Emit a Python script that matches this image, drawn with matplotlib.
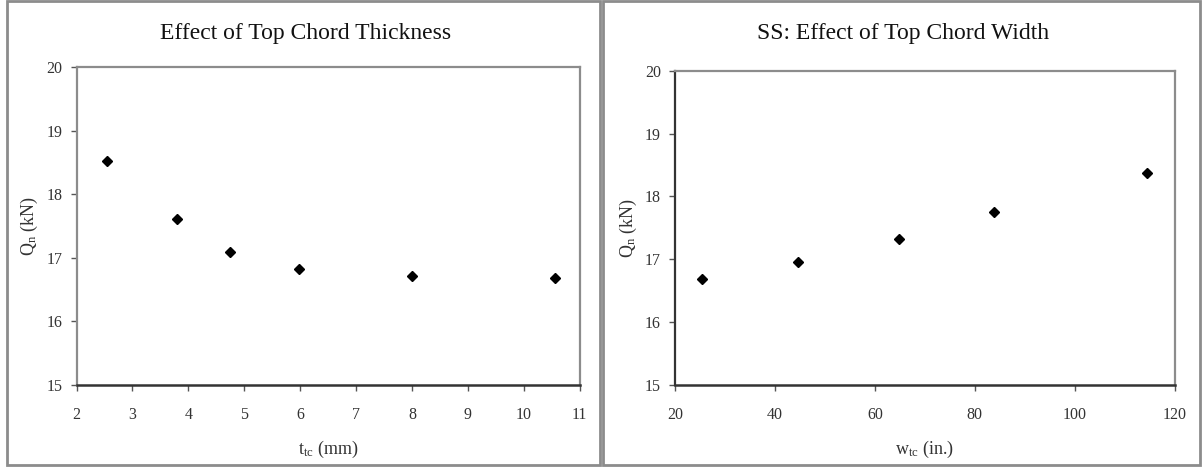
import matplotlib
matplotlib.use("Agg")
import matplotlib.pyplot as plt
from matplotlib.patches import Rectangle

# Data
thickness_mm = [2.54, 3.80, 4.75, 5.98, 8.00, 10.55]
qn_thickness = [18.52, 17.61, 17.09, 16.83, 16.71, 16.69]

width_in = [25.5, 44.7, 64.9, 83.8, 114.5]
qn_width = [16.69, 16.95, 17.32, 17.76, 18.37]

left_xticks = [2, 3, 4, 5, 6, 7, 8, 9, 10, 11]
right_xticks = [20, 40, 60, 80, 100, 120]
yticks = [15, 16, 17, 18, 19, 20]

plt.rcParams['font.family'] = ['Liberation Serif', 'DejaVu Serif']
plt.rcParams['mathtext.fontset'] = 'custom'
plt.rcParams['mathtext.rm'] = 'Liberation Serif'
plt.rcParams['mathtext.it'] = 'Liberation Serif'

W, H = 1202, 467
fig = plt.figure(figsize=(W / 100, H / 100), dpi=100)

# Panel borders
for (x0, x1) in [(7, 600), (603, 1200)]:
    fig.patches.append(Rectangle((x0 / W, 1 - 465 / H), (x1 - x0) / W, 464 / H,
                                 transform=fig.transFigure, fill=False,
                                 edgecolor='#8c8c8c', linewidth=2.0))

def make_axes(rect, x, y, xlim, xticks, title, xlabel, title_x, left_dark,
              ylab_x, xlab_y):
    ax = fig.add_axes(rect)
    ax.plot(x, y, linestyle='none', marker='D', markersize=5.2, color='black')
    ax.set_xlim(*xlim)
    ax.set_ylim(15, 20)
    ax.set_xticks(xticks)
    ax.set_yticks(yticks)
    for s in ['top', 'right']:
        ax.spines[s].set_color('#8c8c8c')
        ax.spines[s].set_linewidth(1.6)
    ax.spines['left'].set_color('#333333' if left_dark else '#8c8c8c')
    ax.spines['left'].set_linewidth(1.6)
    ax.spines['bottom'].set_color('#333333')
    ax.spines['bottom'].set_linewidth(1.8)
    ax.tick_params(direction='out', length=4, width=1, colors='#555555',
                   labelsize=11.5, labelcolor='#333333')
    ax.tick_params(axis='x', pad=12)
    ax.tick_params(axis='y', pad=6)
    ax.set_xlabel(xlabel, fontsize=13, color='#333333')
    ax.set_ylabel(r'Q$_{\mathrm{n}}$ (kN)', fontsize=13, color='#333333')
    ax.xaxis.set_label_coords(0.5, xlab_y)
    ax.yaxis.set_label_coords(ylab_x, 0.5)
    fig.text(title_x / W, 1 - 33 / H, title, ha='center', va='center',
             fontsize=17, color='#111111')
    return ax

make_axes([76.5 / W, 1 - 385 / H, 503.3 / W, 318 / H], thickness_mm, qn_thickness,
          (2, 11), left_xticks, 'Effect of Top Chord Thickness',
          r't$_{\mathrm{tc}}$ (mm)', 306, False, -0.072, -0.17)
make_axes([674.9 / W, 1 - 385 / H, 499.8 / W, 314.3 / H], width_in, qn_width,
          (20, 120), right_xticks, 'SS: Effect of Top Chord Width',
          r'w$_{\mathrm{tc}}$ (in.)', 903, True, -0.072, -0.172)

fig.savefig('out.png', dpi=100, facecolor='white')
